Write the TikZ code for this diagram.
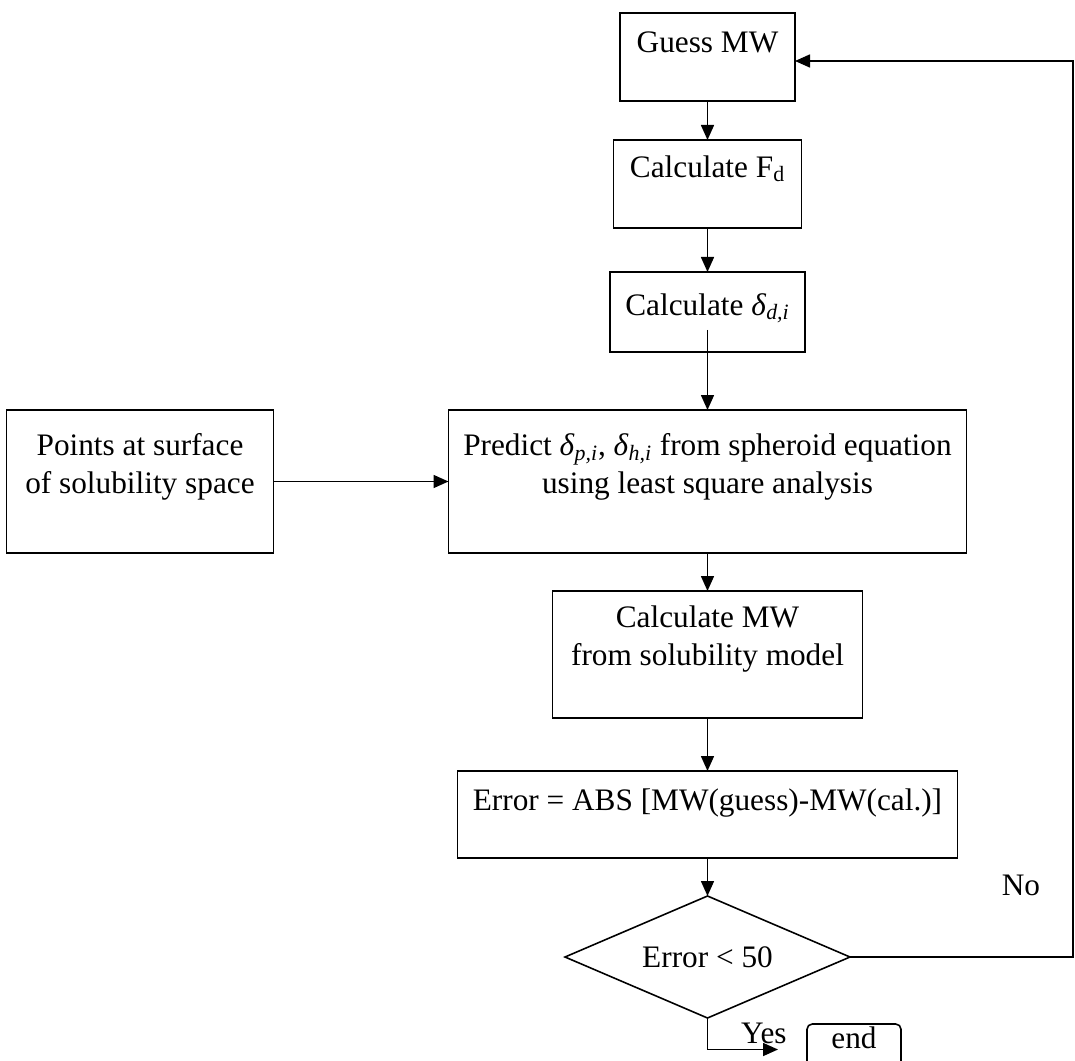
\documentclass[tikz,border=0pt]{standalone}
\usepackage{fontspec}
\setmainfont{Liberation Serif}
\usepackage{tikz}
\usetikzlibrary{positioning,shapes.geometric,arrows.meta}
\tikzset{
  stepbox/.style={draw, line width=0.9pt, inner sep=0pt, outer sep=0pt, align=center},
  endbox/.style={draw, line width=0.9pt, rounded corners=3pt, inner sep=0pt, outer sep=0pt, minimum width=1.88cm, text height=0.48cm, text depth=0.54cm},
  decision/.style={draw, diamond, aspect=2.34, line width=0.9pt, inner sep=0pt, outer sep=0pt, minimum width=5.7cm, minimum height=2.44cm},
  flow/.style={-{Triangle[length=0.3cm,width=0.26cm]}, line width=0.9pt}
}

\begin{document}
\begin{tikzpicture}[every node/.style={font=\fontsize{17.8}{21.6}\selectfont}]
  \useasboundingbox (0,0) rectangle (21.5,-21.22);

  \node[stepbox, anchor=north] (guess) at (14.15,-0.26) {%
    \begin{minipage}[c][1.76cm][t]{3.5cm}\centering\vspace*{0.25cm}\strut Guess MW\end{minipage}};
  \node[stepbox, below=0.78cm of guess] (fd) {%
    \begin{minipage}[c][1.76cm][t]{3.76cm}\centering\vspace*{0.21cm}\strut Calculate F\textsubscript{d}\end{minipage}};
  \node[stepbox, below=0.88cm of fd] (dd) {%
    \begin{minipage}[c][1.6cm][t]{3.9cm}\centering\vspace*{0.33cm}\strut Calculate \textit{δ}\textsubscript{\textit{d,i}}\end{minipage}};
  \node[stepbox, below=1.16cm of dd] (predict) {%
    \begin{minipage}[c][2.86cm][t]{10.36cm}\centering\vspace*{0.38cm}\strut Predict \textit{δ}\textsubscript{\textit{p,i}}, \textit{δ}\textsubscript{\textit{h,i}} from spheroid equation\\
    using least square analysis\end{minipage}};
  \node[stepbox, left=3.5cm of predict] (points) {%
    \begin{minipage}[c][2.86cm][t]{5.34cm}\centering\vspace*{0.38cm}\strut Points at surface\\
    of solubility space\end{minipage}};
  \node[stepbox, below=0.76cm of predict] (calcmw) {%
    \begin{minipage}[c][2.54cm][t]{6.2cm}\centering\vspace*{0.2cm}\strut Calculate MW\\
    from solubility model\end{minipage}};
  \node[stepbox, below=1.06cm of calcmw] (error) {%
    \begin{minipage}[c][1.74cm][t]{10cm}\centering\vspace*{0.26cm}\strut Error = ABS [MW(guess)-MW(cal.)]\end{minipage}};
  \node[decision, below=0.76cm of error] (check) {Error < 50};
  \node[endbox, anchor=north west] (finish) at (16.14,-20.48) {end};
  \node (no) at (20.42,-17.7) {No};
  \coordinate (rim) at (21.46,-1.22);

  \draw[flow] (guess) -- (fd);
  \draw[flow] (fd) -- (dd);
  \draw[flow] ([yshift=0.44cm]dd.south) -- (predict);
  \draw[flow] (points) -- (predict);
  \draw[flow] (predict) -- (calcmw);
  \draw[flow] (calcmw) -- (error);
  \draw[flow] (error) -- (check);
  \draw[flow] (check.east) -- (check.east -| rim) |- ([yshift=-0.08cm]guess.east);
  \draw[flow] (check.south) |- node[pos=0.9, above, inner sep=3pt] {Yes} ([xshift=-0.58cm]finish.west);
\end{tikzpicture}
\end{document}
